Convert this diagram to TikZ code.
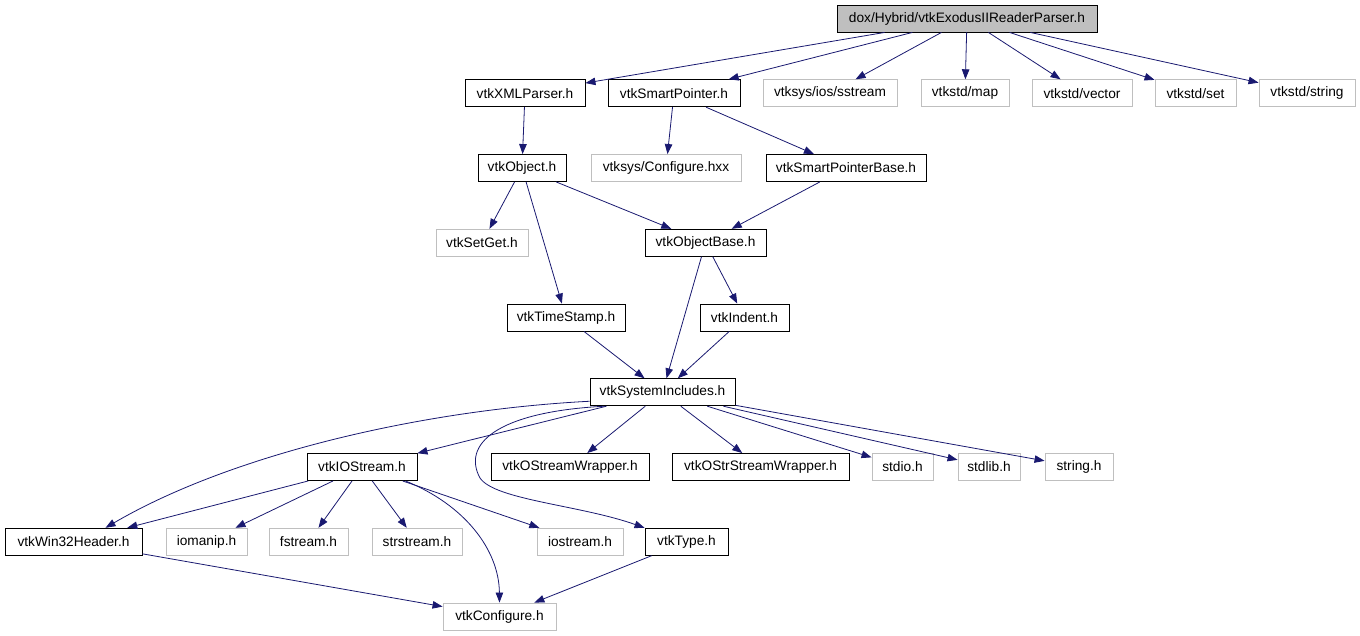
\documentclass[tikz,border=0pt]{standalone}
\usepackage{fontspec}
\setmainfont{Liberation Sans}
\usetikzlibrary{arrows.meta}
\definecolor{edgeblue}{HTML}{191970}
\definecolor{grey75}{HTML}{BFBFBF}

\begin{document}
\begin{tikzpicture}[x=1pt, y=-1pt, >={Triangle[length=10pt, width=7.5pt]},
    hdr/.style={draw=black, line width=0.9pt, minimum height=27pt, inner xsep=4pt, inner ysep=0pt, font=\fontsize{13.7}{16}\selectfont},
    extern/.style={hdr, draw=grey75},
    mainfile/.style={hdr, fill=grey75},
    dep/.style={->, color=edgeblue, line width=0.8pt}]
    \useasboundingbox (0,0) rectangle (1360,635);

    \node[mainfile, minimum width=260pt] (root) at (967,18.5) {dox/Hybrid/vtkExodusIIReaderParser.h};

    \node[hdr, minimum width=120pt] (xmlparser) at (525,93.25) {vtkXMLParser.h};
    \node[hdr, minimum width=132pt] (smartptr) at (674,93.25) {vtkSmartPointer.h};
    \node[extern, minimum width=134pt] (sstream) at (830,93.25) {vtksys/ios/sstream};
    \node[extern, minimum width=88pt] (map) at (965,93.25) {vtkstd/map};
    \node[extern, minimum width=100pt] (vector) at (1082,93.25) {vtkstd/vector};
    \node[extern, minimum width=81pt] (set) at (1195.5,93.25) {vtkstd/set};
    \node[extern, minimum width=96pt] (string) at (1307,93.25) {vtkstd/string};

    \node[hdr, minimum width=88pt] (object) at (522,168) {vtkObject.h};
    \node[extern, minimum width=150pt] (syscfg) at (666,168) {vtksys/Configure.hxx};
    \node[hdr, minimum width=160pt] (smartptrbase) at (846,168) {vtkSmartPointerBase.h};

    \node[extern, minimum width=92pt] (setget) at (482,242.75) {vtkSetGet.h};
    \node[hdr, minimum width=121pt] (objectbase) at (705.5,242.75) {vtkObjectBase.h};

    \node[hdr, minimum width=118pt] (timestamp) at (566,317.5) {vtkTimeStamp.h};
    \node[hdr, minimum width=89pt] (indent) at (744.5,317.5) {vtkIndent.h};

    \node[hdr, minimum width=145pt] (sysinc) at (662.5,392.25) {vtkSystemIncludes.h};

    \node[hdr, minimum width=110pt] (iostreamv) at (362,467) {vtkIOStream.h};
    \node[hdr, minimum width=158pt] (ostream) at (570,467) {vtkOStreamWrapper.h};
    \node[hdr, minimum width=177pt] (ostrstream) at (760.5,467) {vtkOStrStreamWrapper.h};
    \node[extern, minimum width=61pt] (stdio) at (902.5,467) {stdio.h};
    \node[extern, minimum width=62pt] (stdlib) at (989,467) {stdlib.h};
    \node[extern, minimum width=68pt] (stringh) at (1079,467) {string.h};

    \node[hdr, minimum width=137pt] (win32) at (73.5,541.75) {vtkWin32Header.h};
    \node[extern, minimum width=81pt] (iomanip) at (206.5,541.75) {iomanip.h};
    \node[extern, minimum width=79pt] (fstream) at (308.5,541.75) {fstream.h};
    \node[extern, minimum width=90pt] (strstream) at (417,541.75) {strstream.h};
    \node[extern, minimum width=86pt] (iostream) at (580,541.75) {iostream.h};
    \node[hdr, minimum width=83pt] (type) at (686.5,541.75) {vtkType.h};

    \node[extern, minimum width=113pt] (configure) at (499.5,616.5) {vtkConfigure.h};

    \path[dep]
    (root) edge (xmlparser)
    (root) edge (smartptr)
    (root) edge (sstream)
    (root) edge (map)
    (root) edge (vector)
    (root) edge (set)
    (root) edge (string)
    (xmlparser) edge (object)
    (smartptr) edge (syscfg)
    (smartptr) edge (smartptrbase)
    (object) edge (setget)
    (object) edge (timestamp)
    (object) edge (objectbase)
    (smartptrbase) edge (objectbase)
    (objectbase) edge (sysinc)
    (objectbase) edge (indent)
    (timestamp) edge (sysinc)
    (indent) edge (sysinc)
    (sysinc) edge (iostreamv)
    (sysinc) edge (ostream)
    (sysinc) edge (ostrstream)
    (sysinc) edge (stdio)
    (sysinc) edge (stdlib)
    (sysinc) edge (stringh)
    (iostreamv) edge (win32)
    (iostreamv) edge (iomanip)
    (iostreamv) edge (fstream)
    (iostreamv) edge (strstream)
    (iostreamv) edge (iostream)
    (win32) edge (configure)
    (type) edge (configure);

    % the bent ones
    \draw[dep] ([yshift=-9pt]sysinc.west) .. controls (420,410) and (230,455) .. ([xshift=32pt]win32.north);
    \draw[dep] ([xshift=-58pt]sysinc.south) .. controls (495,412) and (462,445) .. (480,478) .. controls (495,500) and (580,505) .. (type.north west);
    \draw[dep] ([xshift=-12pt]iostreamv.south east) .. controls (465,505) and (499,550) .. (configure.north);
\end{tikzpicture}
\end{document}
